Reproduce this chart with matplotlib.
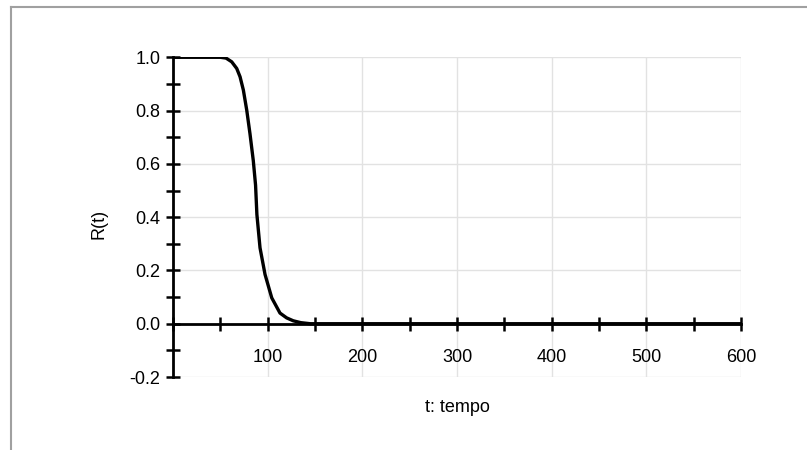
import numpy as np
import matplotlib.pyplot as plt
from matplotlib.lines import Line2D
from matplotlib.ticker import MultipleLocator, FixedLocator

# values
t = [0, 50, 56, 62, 67.3, 70.8, 74.3, 77.9, 81.3, 84.8, 87.2, 88.6, 91.9,
     97.2, 104.3, 113, 120, 127, 135, 145, 600]
R = [1.0, 1.0, 0.997, 0.983, 0.958, 0.927, 0.877, 0.801, 0.713, 0.612,
     0.52, 0.41, 0.285, 0.185, 0.097, 0.040, 0.022, 0.011, 0.004, 0.0, 0.0]
x_labels = [100, 200, 300, 400, 500, 600]
y_labels = [-0.2, 0.0, 0.2, 0.4, 0.6, 0.8, 1.0]

plt.rcParams['font.family'] = ['Liberation Sans', 'DejaVu Sans']

fig = plt.figure(figsize=(8.07, 4.5), dpi=100)
ax = fig.add_axes([0.2144, 0.1622, 0.7038, 0.7105])

ax.plot(t, R, color="black", lw=2.4, solid_capstyle="round",
        solid_joinstyle="round", zorder=5)

ax.set_xlim(0, 600)
ax.set_ylim(-0.2, 1.0)

ax.spines["left"].set_position(("data", 0))
ax.spines["bottom"].set_position(("data", 0))
ax.spines["top"].set_visible(False)
ax.spines["right"].set_visible(False)
for s in ("left", "bottom"):
    ax.spines[s].set_linewidth(2.0)
    ax.spines[s].set_zorder(6)

ax.xaxis.set_major_locator(FixedLocator(x_labels))
ax.xaxis.set_minor_locator(MultipleLocator(50))
ax.yaxis.set_major_locator(FixedLocator(y_labels))
ax.yaxis.set_minor_locator(MultipleLocator(0.1))
ax.set_yticklabels(["%.1f" % v for v in y_labels])

ax.tick_params(which="both", direction="inout", length=10, width=1.8, labelsize=13)
ax.tick_params(axis="x", which="major", pad=13)
ax.tick_params(axis="y", which="major", pad=4)

ax.grid(True, which="major", color="#e2e2e2", lw=1.0)
ax.set_axisbelow(True)

ax.set_xlabel("t: tempo", fontsize=13)
ax.set_ylabel("R(t)", fontsize=13)
ax.xaxis.set_label_coords(0.5, -0.07)
ax.yaxis.set_label_coords(-0.116, 0.48)

# scanned frame around the chart
fig.add_artist(Line2D([11 / 807, 1], [1 - 6.5 / 450, 1 - 6.5 / 450],
                      transform=fig.transFigure, color="#a0a0a0", lw=1.5))
fig.add_artist(Line2D([11 / 807, 11 / 807], [0, 1 - 6.5 / 450],
                      transform=fig.transFigure, color="#a0a0a0", lw=1.5))

fig.savefig("out.png", dpi=100)
